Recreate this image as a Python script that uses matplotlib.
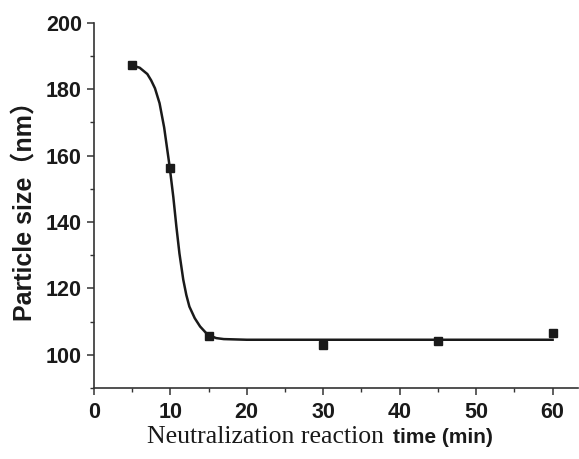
import matplotlib
matplotlib.use('Agg')
from matplotlib import pyplot as plt
from matplotlib.ticker import MultipleLocator

# measured points
time_min = [5, 10, 15, 30, 45, 60]
size_nm = [187.2, 156.3, 105.6, 102.8, 104.2, 106.5]

# fitted curve
fit_x = [5, 6, 7, 7.5, 8, 8.6, 9.2, 9.9, 10.4, 10.8, 11.2, 11.7, 12.1, 12.5, 13.2, 13.9, 14.9, 16, 17, 20, 30, 45, 60]
fit_y = [187.2, 186.5, 184.6, 182.7, 180.3, 175.8, 168.5, 157.0, 147.5, 138.6, 130.5, 122.6, 118.0, 114.5, 111.0, 108.5, 106.0, 105.0, 104.7, 104.5, 104.5, 104.5, 104.5]

fig = plt.figure(figsize=(5.79, 4.59), dpi=100)
ax = fig.add_axes([0.162, 0.155, 0.836, 0.795])

ax.plot(fit_x, fit_y, color='#1a1a1a', linewidth=1.8)
ax.plot(time_min, size_nm, 's', color='#1a1a1a', markersize=6)

ax.set_xlim(0, 63.3)
ax.set_ylim(90, 200)
ax.xaxis.set_major_locator(MultipleLocator(10))
ax.xaxis.set_minor_locator(MultipleLocator(5))
ax.yaxis.set_major_locator(MultipleLocator(20))
ax.yaxis.set_minor_locator(MultipleLocator(10))

for s in ['top', 'right']:
    ax.spines[s].set_visible(False)
for s in ['left', 'bottom']:
    ax.spines[s].set_color('#333333')
    ax.spines[s].set_linewidth(1.2)

ax.tick_params(which='major', direction='out', length=5, width=1.1, colors='#333333', labelcolor='#1a1a1a')
ax.tick_params(which='minor', direction='out', length=3, width=1.0, colors='#333333')
ax.tick_params(axis='x', pad=5)
for lab in ax.get_xticklabels() + ax.get_yticklabels():
    lab.set_fontfamily('Liberation Sans')
    lab.set_fontweight('bold')
    lab.set_fontsize(15.5)

ax.set_ylabel('Particle size（nm）', family=['Liberation Sans', 'Noto Sans CJK SC'],
              fontweight='bold', fontsize=18, color='#1a1a1a', labelpad=6)

# x label mixes a serif part and a bold sans part
fig.text(0.254, 0.035, 'Neutralization reaction', family='Liberation Serif',
         fontsize=18.5, color='#1a1a1a', ha='left', va='baseline')
fig.text(0.679, 0.035, 'time (min)', family='Liberation Sans', fontweight='bold',
         fontsize=15, color='#1a1a1a', ha='left', va='baseline')

fig.savefig('out.png', dpi=100)
